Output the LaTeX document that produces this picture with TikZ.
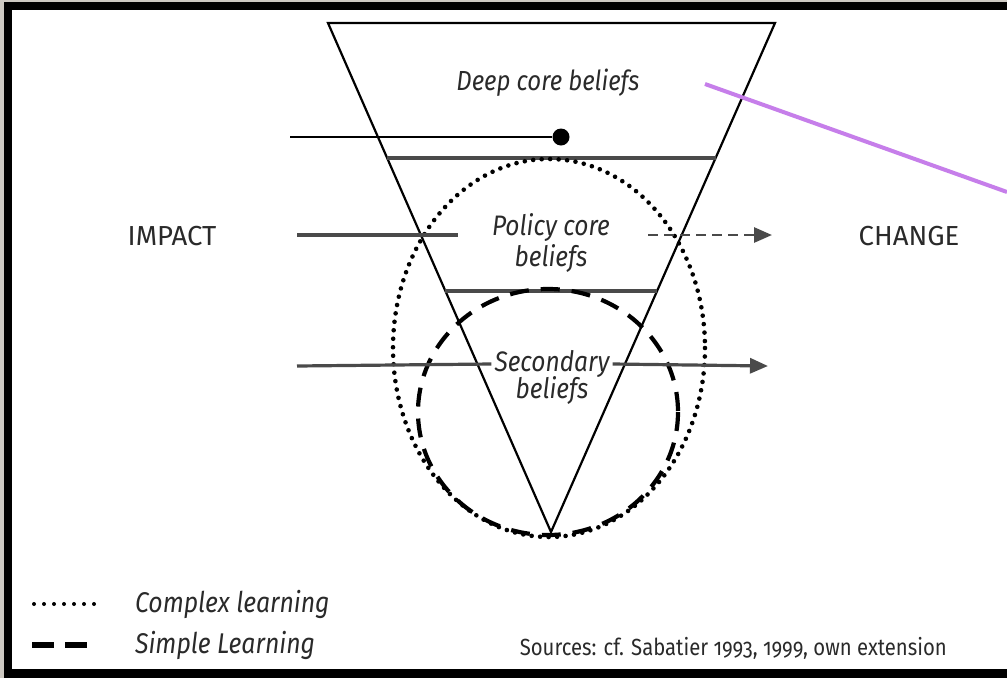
\documentclass[tikz,border=0pt]{standalone}
\usepackage{fontspec}
\setmainfont[Numbers=OldStyle]{Fira Sans}
\usetikzlibrary{arrows.meta,calc}
\definecolor{frame}{HTML}{CDC9C2}
\definecolor{txt}{HTML}{2A2A2A}
\definecolor{hl}{HTML}{4A4A4A}
\definecolor{violet}{RGB}{198,126,234}
\newcommand{\tall}[1]{\scalebox{1}[1.15]{#1}}
\tikzset{
  lbl/.style={text=txt,inner sep=0pt,font=\fontsize{24}{26}\selectfont\itshape},
  caps/.style={text=txt,inner sep=0pt,font=\fontsize{27.5}{30}\selectfont},
  edge/.style={line width=2.2pt,black,line join=miter},
  hline/.style={line width=3.2pt,hl},
  arrowtip/.style={-{Triangle[length=18pt,width=15pt]}},
  dotl/.style={line width=4.6pt,line cap=round,dash pattern=on 0pt off 8.5pt,black},
  dashl/.style={line width=4.2pt,dash pattern=on 19pt off 12pt,black},
}
\begin{document}
\begin{tikzpicture}[x=1pt,y=-1pt]
\fill[frame] (0,0) rectangle (1007,678);
\fill[black] (4,2) rectangle (1007,678);
\fill[white] (12,10) rectangle (1007,669);
\useasboundingbox (0,0) rectangle (1007,678);

% triangle
\coordinate (tl) at (328,23);
\coordinate (tr) at (775,23);
\coordinate (ap) at (551,532);
\draw[edge] (tl) -- (tr) -- (ap) -- cycle;

% layer lines
\draw[hline] ($(tl)!0.2652!(ap)$) -- ($(tr)!0.2652!(ap)$);
\draw[hline] ($(tl)!0.5265!(ap)$) -- ($(tr)!0.5265!(ap)$);

% learning ellipses
\draw[dotl] (549,348) ellipse [x radius=156, y radius=189];
\draw[dashl] (548,412) ellipse [x radius=130, y radius=123];

% labels
\node[lbl] (deep) at (548,83) {\tall{Deep core beliefs}};
\node[lbl,font=\fontsize{24.5}{30}\selectfont\itshape] (policy) at (551,228) {\tall{Policy core}};
\node[lbl,font=\fontsize{24.5}{30}\selectfont\itshape] (policyb) at (551,259) {\tall{beliefs}};
\node[lbl,font=\fontsize{24.5}{26}\selectfont\itshape,fill=white,inner sep=3pt] (sec) at (552,364) {\tall{Secondary}};
\node[lbl,font=\fontsize{24.5}{26}\selectfont\itshape] (secb) at (552,391) {\tall{beliefs}};
\node[caps] (impact) at (172,236) {IMPACT};
\node[caps] (change) at (909,236) {CHANGE};

% impact line with dot
\coordinate (d0) at (290,137);
\node[circle,fill=black,inner sep=0pt,minimum size=17pt] (dot) at (561,137) {};
\draw[line width=2.2pt] (d0) -- (dot);

% policy core line
\coordinate (i0) at (297,235);
\coordinate (i1) at (458,235);
\coordinate (c0) at (648,235);
\coordinate (c1) at (772,235);
\draw[hline] (i0) -- (i1);
\draw[line width=2.8pt,hl,dash pattern=on 10pt off 6pt,arrowtip] (c0) -- (c1);

% secondary line
\coordinate (s0) at (297,366);
\coordinate (s1) at (768,366);
\draw[hline] (s0) -- (sec.west);
\draw[hline,arrowtip] (sec.east) -- (s1);

% pointer
\coordinate (p0) at (705,84);
\coordinate (p1) at (1007,192);
\draw[violet,line width=4pt] (p0) -- (p1);

% legend
\coordinate (la) at (34,604);
\coordinate (lb) at (96,604);
\draw[line width=4pt,line cap=round,dash pattern=on 0pt off 10pt] (la) -- (lb);
\node[lbl,anchor=west,font=\fontsize{24.8}{26}\selectfont\itshape] (complex) at (135,604) {\tall{Complex learning}};
\coordinate (ma) at (32,645);
\coordinate (mb) at (88,645);
\draw[line width=6pt,dash pattern=on 22pt off 11pt] (ma) -- (mb);
\node[lbl,anchor=west,font=\fontsize{24.8}{26}\selectfont\itshape] (simple) at (135,645) {\tall{Simple Learning}};
\node[text=txt,inner sep=0pt,anchor=east,font=\fontsize{20.3}{22}\selectfont] (src) at (947,648) {\tall{Sources: cf. Sabatier 1993, 1999, own extension}};
\end{tikzpicture}
\end{document}
